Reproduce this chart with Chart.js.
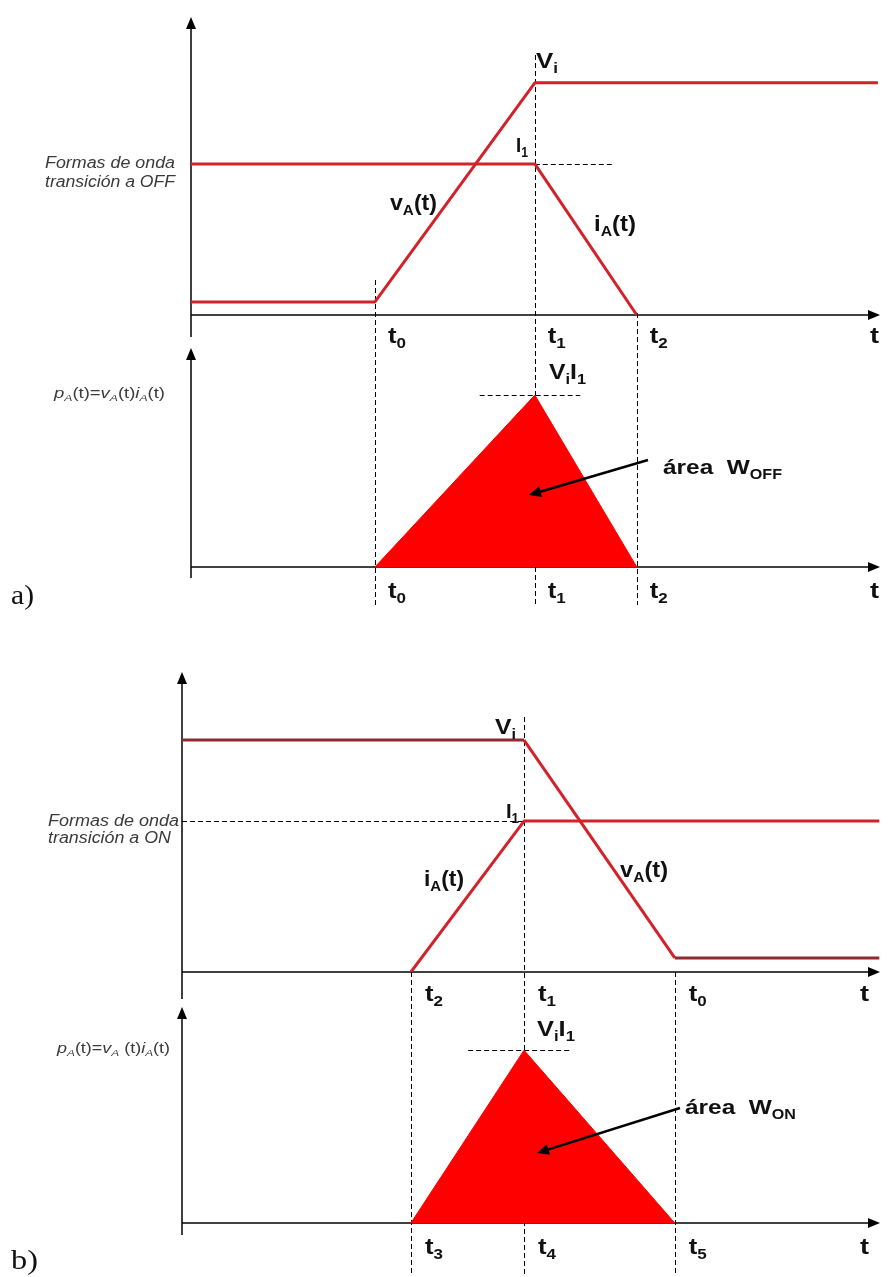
<!DOCTYPE html>
<html><head><meta charset="utf-8">
<script src="https://cdn.jsdelivr.net/npm/chart.js@4.4.1/dist/chart.umd.min.js"></script>
<style>
html,body{margin:0;padding:0;background:#fff;}
#wrap{position:relative;width:892px;height:1277px;overflow:hidden;background:#fff;}
#wrap canvas{position:absolute;left:0;top:0;}
</style></head>
<body><div id="wrap">
<canvas id="a1" width="892" height="1277"></canvas>
<canvas id="a2" width="892" height="1277"></canvas>
<canvas id="b1" width="892" height="1277"></canvas>
<canvas id="b2" width="892" height="1277"></canvas>
</div>
<script>
// ===== DATA (relative units 0..10) =====
// a) transición a OFF
const aTickNames = ['t0', 't1', 't2'];
const aTickTimes = [2.67, 4.99, 6.47];
const aVoltTime  = [0, 2.67, 4.99, 9.97];
const aVoltValue = [0.44, 0.44, 7.79, 7.79];
const aCurrTime  = [0, 4.99, 6.47];
const aCurrValue = [5.07, 5.07, 0];
const aPowTime   = [2.67, 4.99, 6.47];
const aPowValue  = [0, 7.85, 0];
// b) transición a ON
const bTopTickNames    = ['t2', 't1', 't0'];
const bBottomTickNames = ['t3', 't4', 't5'];
const bTickTimes = [3.28, 4.90, 7.06];
const bVoltTime  = [0, 4.90, 7.06, 9.99];
const bVoltValue = [7.73, 7.73, 0.47, 0.47];
const bCurrTime  = [3.28, 4.90, 9.99];
const bCurrValue = [0, 5.03, 5.03];
const bPowTime   = [3.28, 4.90, 7.06];
const bPowValue  = [0, 8.0, 0];

// ===== STYLE =====
const RED = '#d3222a';
const DARKRED = '#8e2a30';
const FILL = '#ff0000';
const INK = '#111111';
const GREY = '#3a3a3a';
const SANS = '"Liberation Sans", Arial, sans-serif';
const SERIF = '"Liberation Serif", "Times New Roman", serif';
const W = 892, H = 1277;
const TICK_SIZE = 22, TICK_W = 18, T_W = 9;

function pts(xs, ys) { return xs.map((x, i) => ({ x: x, y: ys[i] })); }

// rich text: segs = [[text, sub?, italic?], ...]
function drawRich(ctx, L) {
  const size = L.size, subSize = size * 0.66;
  const fam = L.family || SANS;
  const fontFor = (seg) => {
    const it = (seg[2] !== undefined ? seg[2] : L.italic) ? 'italic ' : '';
    const bd = L.bold ? 'bold ' : '';
    return it + bd + (seg[1] ? subSize : size) + 'px ' + fam;
  };
  let total = 0;
  const widths = L.s.map(seg => { ctx.font = fontFor(seg); const w = ctx.measureText(seg[0]).width; total += w; return w; });
  const sx = L.w ? L.w / total : 1;
  ctx.save();
  ctx.translate(L.x, L.y);
  ctx.scale(sx, 1);
  ctx.fillStyle = L.color || INK;
  ctx.textBaseline = 'alphabetic';
  ctx.textAlign = 'left';
  let cx = 0;
  L.s.forEach((seg, i) => {
    ctx.font = fontFor(seg);
    ctx.fillText(seg[0], cx, seg[1] ? size * 0.22 : 0);
    cx += widths[i];
  });
  ctx.restore();
}

function arrowHead(ctx, x, y, ang, len, half) {
  ctx.save();
  ctx.translate(x, y); ctx.rotate(ang);
  ctx.beginPath();
  ctx.moveTo(0, 0); ctx.lineTo(-len, -half); ctx.lineTo(-len, half); ctx.closePath();
  ctx.fill();
  ctx.restore();
}

const schematic = {
  id: 'schematic',
  beforeDatasetsDraw(chart, args, o) {
    const ctx = chart.ctx, xs = chart.scales.x, ys = chart.scales.y;
    ctx.save();
    // dashed guide lines
    ctx.strokeStyle = '#000'; ctx.lineWidth = 1; ctx.setLineDash([5, 3]);
    (o.vDash || []).forEach(d => {
      const px = Math.round(xs.getPixelForValue(d.x)) + 0.5;
      ctx.beginPath(); ctx.moveTo(px, d.y1); ctx.lineTo(px, d.y2); ctx.stroke();
    });
    (o.hDash || []).forEach(d => {
      const py = Math.round(ys.getPixelForValue(d.y)) + 0.5;
      ctx.beginPath(); ctx.moveTo(xs.getPixelForValue(d.x1), py); ctx.lineTo(xs.getPixelForValue(d.x2), py); ctx.stroke();
    });
    ctx.setLineDash([]);
    // axes
    ctx.strokeStyle = '#000'; ctx.fillStyle = '#000'; ctx.lineWidth = 1.5;
    const x0 = xs.getPixelForValue(0), y0 = ys.getPixelForValue(0);
    const yTop = ys.getPixelForValue(10), xEnd = xs.getPixelForValue(10);
    ctx.beginPath(); ctx.moveTo(x0, y0 + o.yExt); ctx.lineTo(x0, yTop + 8); ctx.stroke();
    arrowHead(ctx, x0, yTop, -Math.PI / 2, 12, 5);
    ctx.beginPath(); ctx.moveTo(x0, y0); ctx.lineTo(xEnd - 8, y0); ctx.stroke();
    arrowHead(ctx, xEnd, y0, 0, 12, 5);
    ctx.restore();
  },
  afterDatasetsDraw(chart, args, o) {
    const ctx = chart.ctx, xs = chart.scales.x;
    // time tick labels
    if (o.ticks) {
      o.ticks.names.forEach((n, i) => {
        drawRich(ctx, { s: [[n[0]], [n.slice(1), 1]], x: xs.getPixelForValue(o.ticks.times[i]) + o.ticks.dx, y: o.ticks.y, size: TICK_SIZE, w: TICK_W, bold: true });
      });
      drawRich(ctx, { s: [['t']], x: o.ticks.tx, y: o.ticks.y, size: TICK_SIZE, w: T_W, bold: true });
    }
    (o.labels || []).forEach(L => drawRich(ctx, L));
    if (o.arrow) {
      const r = o.arrow;
      ctx.save();
      ctx.strokeStyle = '#000'; ctx.fillStyle = '#000'; ctx.lineWidth = 2.5;
      const ang = Math.atan2(r.y2 - r.y1, r.x2 - r.x1);
      ctx.beginPath(); ctx.moveTo(r.x1, r.y1);
      ctx.lineTo(r.x2 - 8 * Math.cos(ang), r.y2 - 8 * Math.sin(ang)); ctx.stroke();
      arrowHead(ctx, r.x2, r.y2, ang, 12, 5.5);
      ctx.restore();
    }
  }
};

function makeChart(id, area, datasets, deco) {
  return new Chart(document.getElementById(id), {
    type: 'scatter',
    data: { datasets: datasets },
    options: {
      responsive: false, animation: false, devicePixelRatio: 1, events: [],
      layout: { padding: { left: area.l, top: area.t, right: W - area.r, bottom: H - area.b } },
      scales: {
        x: { type: 'linear', min: 0, max: 10, display: false },
        y: { type: 'linear', min: 0, max: 10, display: false }
      },
      plugins: { legend: { display: false }, tooltip: { enabled: false }, schematic: deco }
    },
    plugins: [schematic]
  });
}

function wave(xs, ys, color, segFlat) {
  const d = { data: pts(xs, ys), showLine: true, borderColor: color, borderWidth: 3, pointRadius: 0, tension: 0, fill: false, borderJoinStyle: 'round' };
  if (segFlat) d.segment = { borderColor: c => (c.p0.parsed.y === c.p1.parsed.y ? segFlat : color) };
  return d;
}
function tri(xs, ys) {
  return { data: pts(xs, ys), showLine: true, borderColor: FILL, backgroundColor: FILL, borderWidth: 1, pointRadius: 0, tension: 0, fill: 'origin' };
}

// ---------- a) top : waveforms ----------
makeChart('a1', { l: 191, r: 880, t: 17, b: 315 },
  [wave(aVoltTime, aVoltValue, RED), wave(aCurrTime, aCurrValue, RED)],
  {
    yExt: 22,
    vDash: [{ x: aTickTimes[0], y1: 280, y2: 605 }, { x: aTickTimes[1], y1: 55, y2: 605 }, { x: aTickTimes[2], y1: 313, y2: 605 }],
    hDash: [{ y: aCurrValue[0], x1: aTickTimes[1], x2: 6.12 }],
    ticks: { names: aTickNames, times: aTickTimes, dx: 13, y: 343, tx: 870 },
    labels: [
      { s: [['V'], ['i', 1]], x: 536, y: 68, size: 22, w: 22, bold: true },
      { s: [['I'], ['1', 1]], x: 516, y: 152, size: 21, w: 12, bold: true },
      { s: [['v'], ['A', 1], ['(t)']], x: 390, y: 210, size: 22, w: 47, bold: true },
      { s: [['i'], ['A', 1], ['(t)']], x: 594, y: 231, size: 22, w: 42, bold: true },
      { s: [['Formas de onda']], x: 45, y: 168, size: 16, w: 130, italic: true, color: GREY },
      { s: [['transición a OFF']], x: 45, y: 187, size: 16, w: 130, italic: true, color: GREY }
    ]
  });

// ---------- a) bottom : power ----------
makeChart('a2', { l: 191, r: 880, t: 348, b: 567 },
  [tri(aPowTime, aPowValue)],
  {
    yExt: 11,
    hDash: [{ y: aPowValue[1], x1: 4.19, x2: 5.65 }],
    ticks: { names: aTickNames, times: aTickTimes, dx: 13, y: 598, tx: 870 },
    labels: [
      { s: [['V'], ['i', 1], ['I'], ['1', 1]], x: 549, y: 379, size: 22, w: 37, bold: true },
      { s: [['área  W'], ['OFF', 1]], x: 663, y: 474, size: 21, w: 119, bold: true },
      { s: [['p', 0, 1], ['A', 1, 1], ['(t)=', 0, 0], ['v', 0, 1], ['A', 1, 1], ['(t)', 0, 0], ['i', 0, 1], ['A', 1, 1], ['(t)', 0, 0]], x: 54, y: 398, size: 15, w: 111, color: GREY },
      { s: [['a)']], x: 11, y: 604, size: 27, w: 23, family: SERIF }
    ],
    arrow: { x1: 648, y1: 460, x2: 529, y2: 495 }
  });

// ---------- b) top : waveforms ----------
makeChart('b1', { l: 182, r: 880, t: 672, b: 972 },
  [wave(bVoltTime, bVoltValue, RED, DARKRED), wave(bCurrTime, bCurrValue, RED)],
  {
    yExt: 27,
    vDash: [{ x: bTickTimes[0], y1: 972, y2: 1275 }, { x: bTickTimes[1], y1: 717, y2: 1275 }, { x: bTickTimes[2], y1: 972, y2: 1275 }],
    hDash: [{ y: bCurrValue[1], x1: 0, x2: bTickTimes[1] }],
    ticks: { names: bTopTickNames, times: bTickTimes, dx: 14, y: 1001, tx: 860 },
    labels: [
      { s: [['V'], ['i', 1]], x: 495, y: 734, size: 22, w: 21, bold: true },
      { s: [['I'], ['1', 1]], x: 506, y: 818, size: 21, w: 13, bold: true },
      { s: [['i'], ['A', 1], ['(t)']], x: 424, y: 886, size: 22, w: 40, bold: true },
      { s: [['v'], ['A', 1], ['(t)']], x: 620, y: 877, size: 22, w: 48, bold: true },
      { s: [['Formas de onda']], x: 48, y: 826, size: 16, w: 131, italic: true, color: GREY },
      { s: [['transición a ON']], x: 48, y: 843, size: 16, w: 123, italic: true, color: GREY }
    ]
  });

// ---------- b) bottom : power ----------
makeChart('b2', { l: 182, r: 880, t: 1007, b: 1223 },
  [tri(bPowTime, bPowValue)],
  {
    yExt: 12,
    hDash: [{ y: bPowValue[1], x1: 4.10, x2: 5.57 }],
    ticks: { names: bBottomTickNames, times: bTickTimes, dx: 14, y: 1254, tx: 860 },
    labels: [
      { s: [['V'], ['i', 1], ['I'], ['1', 1]], x: 537, y: 1036, size: 22, w: 38, bold: true },
      { s: [['área  W'], ['ON', 1]], x: 685, y: 1114, size: 21, w: 111, bold: true },
      { s: [['p', 0, 1], ['A', 1, 1], ['(t)=', 0, 0], ['v', 0, 1], ['A', 1, 1], [' (t)', 0, 0], ['i', 0, 1], ['A', 1, 1], ['(t)', 0, 0]], x: 57, y: 1053, size: 15, w: 113, color: GREY },
      { s: [['b)']], x: 11, y: 1269, size: 27, w: 27, family: SERIF }
    ],
    arrow: { x1: 680, y1: 1108, x2: 537, y2: 1153 }
  });
</script>
</body></html>
